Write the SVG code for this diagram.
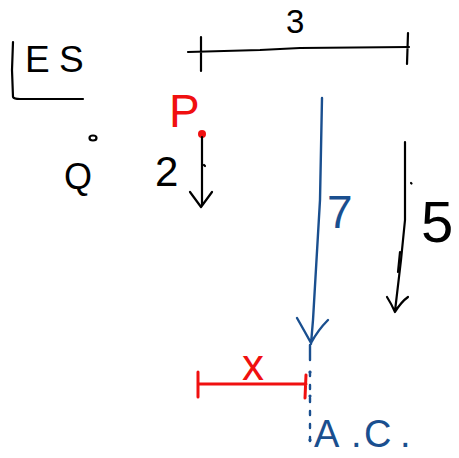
<svg xmlns="http://www.w3.org/2000/svg" width="459" height="458" viewBox="0 0 459 458">
<style>
.ink{fill:none;stroke:#000;stroke-width:2.2;stroke-linecap:round;stroke-linejoin:round}
.blue{fill:none;stroke:#1a4f8f;stroke-width:2.4;stroke-linecap:round;stroke-linejoin:round}
.red{fill:none;stroke:#f01010;stroke-width:3;stroke-linecap:round;stroke-linejoin:round}
.t{font-family:"Liberation Sans","DejaVu Sans",sans-serif}
</style>
<rect width="459" height="458" fill="#fff"/>
<g id="label-les">
<path class="ink" d="M13 42 L12 70 L13 97 Q14 99 20 99 L83 99"/>
<text class="t" x="25 59" y="72" font-size="37" fill="#000">ES</text>
</g>
<g id="point-p">
<text class="t" x="169" y="127" font-size="46" fill="#f01010">P</text>
<circle cx="202" cy="134" r="4" fill="#f01010"/>
</g>
<g id="point-q">
<text class="t" x="64" y="189" font-size="36" fill="#000">Q</text>
<ellipse cx="93" cy="138" rx="3.5" ry="2.5" class="ink" stroke-width="2"/>
</g>
<g id="label-2">
<text class="t" x="155" y="186" font-size="42" fill="#000">2</text>
</g>
<g id="label-7">
<text class="t" x="327" y="228" font-size="46" fill="#1a4f8f">7</text>
</g>
<g id="label-5">
<text class="t" x="421" y="242" font-size="58" fill="#000">5</text>
</g>
<g id="label-3">
<text class="t" x="286" y="33" font-size="33" fill="#000">3</text>
</g>
<g id="label-x">
<text class="t" x="242" y="380" font-size="44" fill="#f01010">x</text>
</g>
<g id="label-ac">
<text class="t" x="314 351 364 400" y="447" font-size="38" fill="#1a4f8f">A.C.</text>
</g>
<g id="connectors">
<path class="ink" d="M202 137 L202 206 M190 192 L201 207 L212 192 M204 165 L205 166"/>
<path class="ink" d="M188 52 L260 50 L300 48 L409 47 M201 37 L201 71 M408 33 L407 64"/>
<path class="blue" d="M322 98 L320 200 L313 320 L311 344 M297 318 Q305 332 311 343 Q318 330 328 320 M310 345 L310 360"/>
<path class="blue" stroke-dasharray="4 9" d="M310 372 L310 444"/>
<circle cx="310" cy="372" r="1.6" fill="#1a4f8f"/>
<circle cx="310" cy="396" r="1.6" fill="#1a4f8f"/>
<circle cx="310" cy="440" r="1.6" fill="#1a4f8f"/>
<path class="ink" d="M405 142 L405 220 L401 260 L395 311 M387 297 Q392 305 395 312 Q401 302 408 297 M411 183 L411.5 183.5"/>
<path class="ink" stroke-width="4" d="M400 252 L398 272"/>
<path class="red" d="M198 384 L306 384 M198 372 L198 397 M306 375 L305 398"/>
</g>
</svg>
